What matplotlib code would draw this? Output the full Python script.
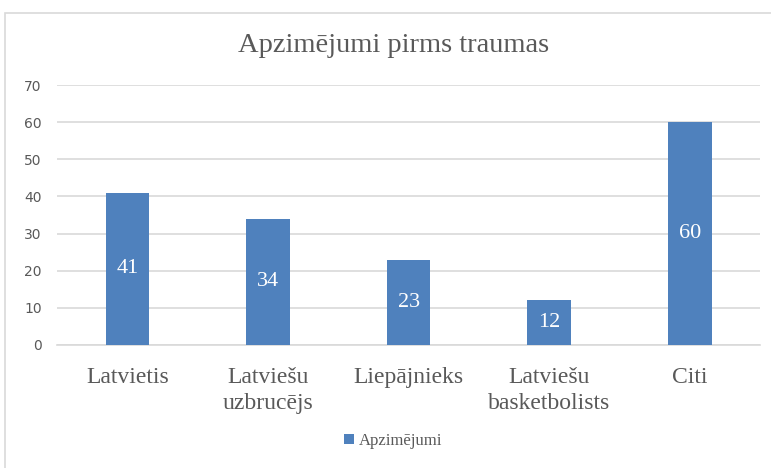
import matplotlib.pyplot as plt
from matplotlib.patches import Rectangle

# data
categories = ["Latvietis", "Latviešu\nuzbrucējs", "Liepājnieks", "Latviešu\nbasketbolists", "Citi"]
values = [41, 34, 23, 12, 60]
series_name = "Apzimējumi"
title = "Apzimējumi pirms traumas"

bar_color = "#4F81BD"
text_gray = "#595959"
grid_gray = "#D9D9D9"

fig = plt.figure(figsize=(7.71, 4.68), dpi=100)
ax = fig.add_axes([0.074, 0.263, 0.912, 0.555])

# chart border
fig.patches.append(Rectangle((5 / 771, -0.1), 1.2, (468 - 13) / 468 + 0.1,
                             transform=fig.transFigure, fill=False,
                             edgecolor=grid_gray, linewidth=1.2))

x = range(len(categories))
bars = ax.bar(x, values, width=0.31, color=bar_color, zorder=3, label=series_name)

for b, v in zip(bars, values):
    ax.text(b.get_x() + b.get_width() / 2, v / 2, str(v), ha="center", va="center",
            color="white", fontsize=16, family="Liberation Serif", zorder=4)

ax.set_xlim(-0.5, len(categories) - 0.5)
ax.set_ylim(0, 70)
ax.set_yticks(range(0, 71, 10))
ax.yaxis.grid(True, color=grid_gray, linewidth=1.2, zorder=0)
for s in ["top", "right", "left"]:
    ax.spines[s].set_visible(False)
ax.spines["bottom"].set_color(grid_gray)
ax.spines["bottom"].set_linewidth(1.2)
ax.tick_params(axis="both", length=0)
ax.tick_params(axis="y", pad=11, labelsize=10, labelcolor=text_gray)
ax.set_xticks(list(x))
ax.set_xticklabels(categories, family="Liberation Serif", fontsize=17, color=text_gray,
                   linespacing=1.3)
ax.tick_params(axis="x", pad=16)

fig.text(0.51, 0.902, title, ha="center", va="center", fontsize=20.5,
         family="Liberation Serif", color=text_gray)

leg = fig.legend(loc="center", bbox_to_anchor=(0.51, 0.058), frameon=False,
                 prop={"family": "Liberation Serif", "size": 12},
                 handlelength=0.55, handleheight=0.55, handletextpad=0.3)
for t in leg.get_texts():
    t.set_color(text_gray)

fig.savefig("out.png", dpi=100)
